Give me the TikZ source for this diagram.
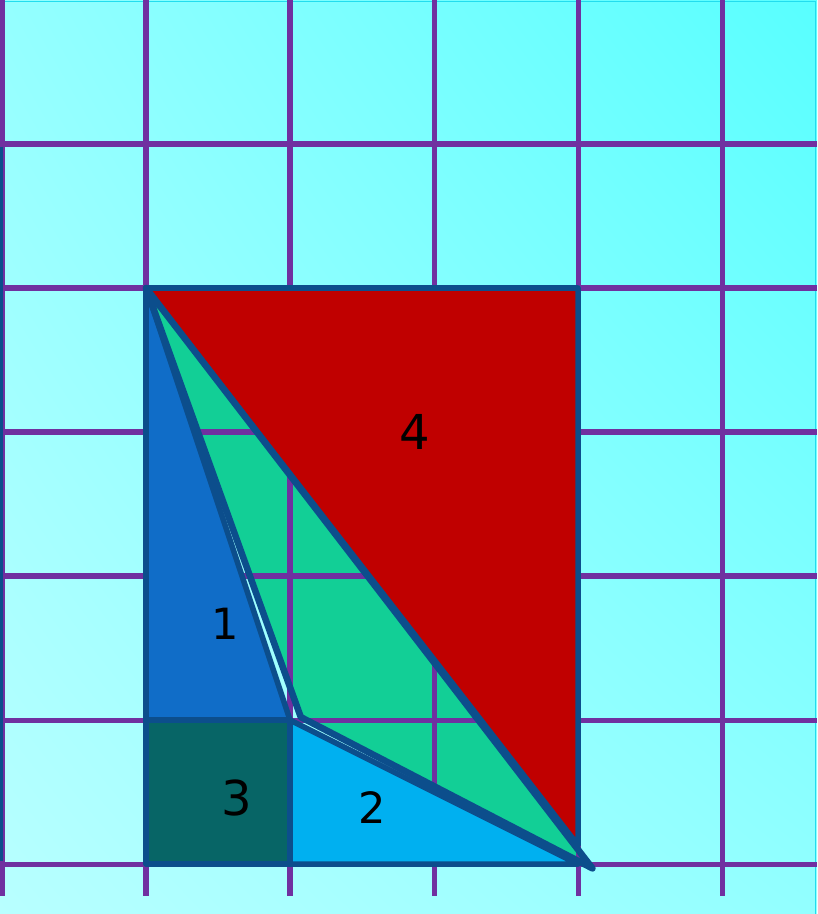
\documentclass[tikz,border=0pt]{standalone}
\usepackage{fontspec}
\setmainfont{DejaVu Sans}
\usetikzlibrary{calc, shadings}

\definecolor{gridpurple}{HTML}{7030A0}
\definecolor{edgeblue}{HTML}{0C4E8C}
\definecolor{redpc}{HTML}{C00000}
\definecolor{greenpc}{HTML}{12CF96}
\definecolor{bluepc}{HTML}{106DC8}
\definecolor{skypc}{HTML}{00B0F0}
\definecolor{tealpc}{HTML}{076566}
\definecolor{bgul}{HTML}{94FFFF}
\definecolor{bgur}{HTML}{58FFFF}
\definecolor{bgll}{HTML}{B8FFFF}
\definecolor{bglr}{HTML}{92FFFF}
\definecolor{bgedge}{HTML}{22DDEE}

\begin{document}
\begin{tikzpicture}[x=2cm, y=-2cm,
  gridline/.style={draw=gridpurple, line width=2pt},
  piece/.style={draw=edgeblue, line width=2.2pt, line join=round},
  lbl/.style={font=\fontsize{17}{20}\selectfont, text=black},
  biglbl/.style={font=\fontsize{19}{22}\selectfont, text=black}]

  % background with gradient
  \useasboundingbox (-0.014,0) rectangle (5.66,6.347);
  \shade[upper left=bgul, upper right=bgur, lower left=bgll, lower right=bglr]
    (-0.014,0) rectangle (5.66,6.347);
  \draw[bgedge, line width=0.5pt] (-0.014,0.01) -- (5.65,0.01) -- (5.65,6.347);

  % corners of the pieces
  \coordinate (tl) at (1,2);
  \coordinate (tr) at (4,2);
  \coordinate (br) at (4,6);
  \coordinate (ml) at (1,5);
  \coordinate (mid) at (2,5);
  \coordinate (mb) at (2,6);
  \coordinate (redtip) at (4,5.87);
  \coordinate (gmid) at (2.075,4.98);
  \coordinate (gend) at (4.1,6.03);

  % green piece lies under the grid
  \fill[greenpc] (tl) -- (gmid) -- (gend) -- cycle;

  % grid
  \foreach \k in {1,...,6}
    \draw[gridline] (-0.014,\k) -- (5.66,\k);
  \foreach \k in {0,...,5}
    \draw[gridline] (\k,0) -- (\k,6.222);
  \draw[edgeblue, line width=1.4pt] (-0.005,1.02) -- (-0.005,5.98);

  % pieces
  \filldraw[piece, fill=redpc] (tl) -- (tr) -- (redtip) -- cycle;
  \filldraw[piece, fill=bluepc] (tl) -- (ml) -- (mid) -- cycle;
  \filldraw[piece, fill=tealpc] (ml) rectangle (mb);
  \filldraw[piece, fill=skypc] (mid) -- (mb) -- (br) -- cycle;
  \draw[piece, line width=2.6pt] (tl) -- (gmid) -- (gend) -- cycle;

  % numbers
  \node[biglbl] (n4) at (2.868,3.0) {4};
  \node[lbl] (n1) at (1.549,4.333) {1};
  \node[biglbl] (n3) at (1.632,5.542) {3};
  \node[lbl] (n2) at (2.569,5.611) {2};

\end{tikzpicture}
\end{document}
